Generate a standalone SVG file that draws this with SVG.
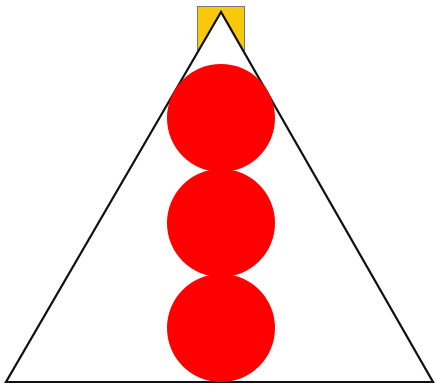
<svg xmlns="http://www.w3.org/2000/svg" width="435" height="385" viewBox="0 0 435 385">
<style>
.ball{fill:#ff0000}
</style>
<rect width="435" height="385" fill="#ffffff"/>
<g id="top">
<rect x="197.5" y="6.5" width="47" height="44" fill="#f7c90a" stroke="#777777" stroke-width="1"/>
</g>
<g id="triangle">
<polygon points="221,12 6,382 433,382" fill="#ffffff" stroke="#111111" stroke-width="2.2" stroke-linejoin="miter"/>
</g>
<g id="balls">
<circle id="ball1" class="ball" cx="221" cy="118" r="54"/>
<circle id="ball2" class="ball" cx="221" cy="223" r="54"/>
<circle id="ball3" class="ball" cx="221" cy="328" r="54"/>
</g>
</svg>
